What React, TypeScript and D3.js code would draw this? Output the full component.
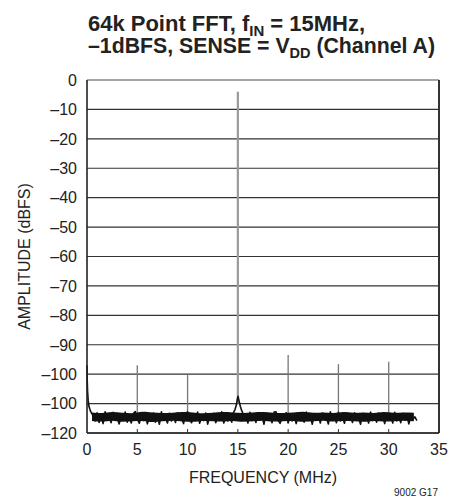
import { useMemo } from "react";
import * as d3 from "d3";

// axis ticks (the original sheet really prints -100 twice)
const yTicks = [0, -10, -20, -30, -40, -50, -60, -70, -80, -90, -100, -110, -120];
const yTickLabels = ["0", "–10", "–20", "–30", "–40", "–50", "–60", "–70", "–80", "–90", "–100", "–100", "–120"];
const xTicks = [0, 5, 10, 15, 20, 25, 30, 35];

// harmonics / spurs, MHz and dBFS
const spurFreq = [5, 10, 20, 25, 30];
const spurDb = [-97, -100.3, -93.5, -96.6, -95.8];
const fundFreq = 15;
const fundDb = -4;

// DC rise and skirt round the fundamental
const dcSkirt: [number, number][] = [[0, -97], [0.02, -102], [0.06, -106], [0.12, -109], [0.2, -111], [0.35, -112.6]];
const fundSkirt: [number, number][] = [[14.5, -113.4], [14.7, -112.2], [14.85, -110.5], [14.95, -108.5], [15.02, -107.5], [15.1, -108.8], [15.25, -111], [15.4, -112.6], [15.55, -113.6]];

// noise floor, one value every 0.2 MHz from 0.6 MHz
const noiseStart = 0.6;
const noiseStep = 0.2;
const noiseDb = [
  -114.2, -115.9, -113.1, -116.4, -114.0, -116.8, -112.8, -115.3, -114.6, -116.5,
  -113.0, -115.7, -114.8, -116.9, -114.1, -115.0, -112.9, -116.3, -114.5, -116.6,
  -113.4, -112.7, -115.2, -116.7, -114.3, -115.8, -113.0, -116.9, -114.7, -115.4,
  -113.2, -116.3, -114.4, -117.0, -112.8, -115.5, -114.9, -116.6, -113.3, -115.9,
  -114.2, -116.4, -113.1, -115.4, -114.8, -116.8, -113.4, -112.8, -115.6, -116.5,
  -114.0, -115.3, -112.9, -116.7, -114.6, -115.8, -113.2, -117.0, -114.3, -115.1,
  -113.3, -116.5, -114.5, -115.7, -112.8, -116.6, -114.1, -115.9, -114.7, -116.3,
  -113.1, -115.5, -114.9, -116.9, -113.4, -115.2, -114.2, -116.6, -113.0, -115.8,
  -114.6, -116.4, -113.2, -115.4, -114.4, -117.0, -113.4, -115.6, -114.0, -116.5,
  -112.9, -112.8, -115.7, -116.7, -114.8, -115.0, -113.1, -116.6, -114.3, -115.9,
  -114.1, -116.8, -113.3, -115.3, -114.7, -116.3, -112.9, -115.8, -114.5, -117.0,
  -113.4, -115.5, -114.2, -116.6, -113.2, -115.1, -114.9, -116.9, -112.8, -115.6,
  -114.0, -116.5, -113.0, -115.9, -114.6, -116.7, -113.3, -115.4, -114.3, -116.4,
  -113.1, -115.7, -114.8, -117.0, -113.4, -115.2, -114.1, -116.6, -112.9, -115.8,
  -114.7, -116.3, -113.2, -115.5, -114.4, -116.8, -113.4, -115.3, -114.2, -116.6,
  -113.0, -115.9, -114.6, -116.5, -113.3, -115.6, -114.0, -116.9, -114.3, -115.4,
  -114.5, -115.8,
];

// upper and lower edge of the solid noise band, one value per MHz from 0.5 MHz
const bandStart = 0.5;
const bandStep = 1;
const bandTop = [
  -113.0, -113.2, -112.9, -113.1, -113.3, -112.8, -113.0, -113.2, -113.1, -112.9,
  -113.0, -113.3, -113.1, -112.9, -113.0, -113.2, -113.0, -112.9, -113.1, -113.2,
  -113.0, -112.8, -113.1, -113.0, -113.2, -112.9, -113.1, -113.0, -113.2, -112.9,
  -113.1, -113.0, -113.1,
];
const bandBottom = [
  -115.9, -116.1, -115.8, -116.2, -116.0, -115.9, -116.3, -116.0, -115.8, -116.1,
  -116.2, -115.9, -116.0, -116.1, -115.9, -116.2, -116.0, -115.8, -116.1, -116.0,
  -115.9, -116.2, -116.0, -115.8, -116.1, -115.9, -116.0, -116.2, -115.9, -116.1,
  -116.0, -115.8, -116.0,
];

const W = 459;
const H = 502;
const M = { left: 87, right: 439, top: 80, bottom: 433 };
const narrow = "'Liberation Sans', Arial, sans-serif";

export default function App() {
  const x = useMemo(() => d3.scaleLinear().domain([0, 35]).range([M.left, M.right]), []);
  const y = useMemo(() => d3.scaleLinear().domain([-120, 0]).range([M.bottom, M.top]), []);

  const floorPts = useMemo(() => {
    const pts: [number, number][] = noiseDb.map((v, i) => [noiseStart + i * noiseStep, v]);
    const kept = pts.filter(p => Math.abs(p[0] - fundFreq) > 0.55);
    return [...dcSkirt, ...kept, ...fundSkirt].sort((a, b) => a[0] - b[0]);
  }, []);

  const band = bandTop.map((t, i) => ({ f: bandStart + i * bandStep, t, b: bandBottom[i] }));

  const line = d3.line<[number, number]>().x(d => x(d[0])).y(d => y(d[1]));
  const area = d3.area<{ f: number; t: number; b: number }>()
    .x(d => x(d.f)).y0(d => y(d.b)).y1(d => y(d.t)).curve(d3.curveMonotoneX);

  return (
    <svg width={W} height={H} style={{ position: "absolute", left: 0, top: 0 }}>
      <rect width={W} height={H} fill="#fff" />
      {/* title */}
      <g fontFamily={narrow} fontWeight="bold" fontSize={22} fill="#222">
        <text x={88} y={31} textLength={277} lengthAdjust="spacingAndGlyphs">
          64k Point FFT, f<tspan fontSize={15} dy={5}>IN</tspan><tspan dy={-5}> = 15MHz,</tspan>
        </text>
        <text x={88} y={53} textLength={347} lengthAdjust="spacingAndGlyphs">
          –1dBFS, SENSE = V<tspan fontSize={15} dy={5}>DD</tspan><tspan dy={-5}> (Channel A)</tspan>
        </text>
      </g>

      {/* grid */}
      {yTicks.map(t => (
        <line key={t} x1={M.left} x2={M.right} y1={y(t)} y2={y(t)}
          stroke={t === 0 ? "#888" : "#333"} strokeWidth={t === 0 ? 1.5 : 1.1} />
      ))}
      {xTicks.slice(1, -1).map(t => (
        <line key={t} x1={x(t)} x2={x(t)} y1={M.bottom} y2={M.bottom - 4} stroke="#333" />
      ))}

      {/* spectrum */}
      {spurFreq.map((f, i) => (
        <line key={f} x1={x(f)} x2={x(f)} y1={y(-114)} y2={y(spurDb[i])} stroke="#777" strokeWidth={1.3} />
      ))}
      <line x1={x(fundFreq)} x2={x(fundFreq)} y1={y(-110)} y2={y(fundDb)} stroke="#9a9a9a" strokeWidth={2.2} />
      <path d={area(band) ?? ""} fill="#111" />
      <path d={line(floorPts) ?? ""} fill="none" stroke="#111" strokeWidth={1.6} strokeLinejoin="round" />

      {/* frame */}
      <line x1={M.left} x2={M.left} y1={M.top} y2={M.bottom} stroke="#222" strokeWidth={1.6} />
      <line x1={M.right} x2={M.right} y1={M.top} y2={M.bottom} stroke="#333" strokeWidth={2} />
      <line x1={M.left} x2={M.right} y1={M.bottom} y2={M.bottom} stroke="#222" strokeWidth={1.6} />

      {/* tick labels */}
      <g fontFamily={narrow} fontSize={16} fill="#222">
        {yTicks.map((t, i) => (
          <text key={t} x={77} y={y(t)} dy="0.36em" textAnchor="end">{yTickLabels[i]}</text>
        ))}
        {xTicks.map(t => (
          <text key={t} x={x(t)} y={455} textAnchor="middle">{t}</text>
        ))}
        <text x={(M.left + M.right) / 2} y={483} textAnchor="middle">FREQUENCY (MHz)</text>
        <text transform={`translate(30, ${(M.top + M.bottom) / 2}) rotate(-90)`} textAnchor="middle">AMPLITUDE (dBFS)</text>
      </g>
      <text x={438} y={496} textAnchor="end" fontFamily={narrow} fontSize={10} fill="#222">9002 G17</text>
    </svg>
  );
}
